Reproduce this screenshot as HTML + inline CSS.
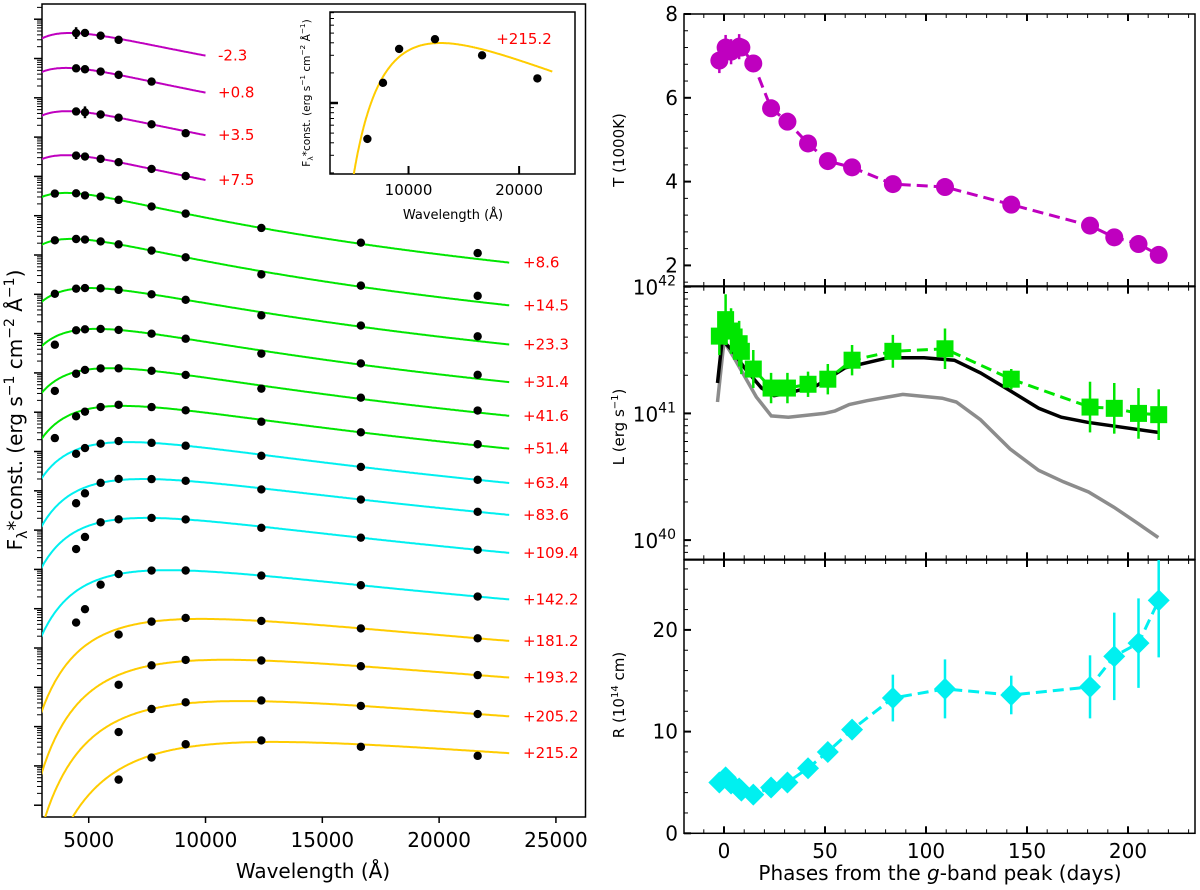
<!DOCTYPE html>
<html><head><meta charset="utf-8"><title>SED fits and blackbody parameters</title>
<style>
html,body{margin:0;padding:0;background:#fff;}
svg{display:block;font-family:"DejaVu Sans","Liberation Sans",sans-serif;}
</style></head>
<body>
<svg id="fig" width="1200" height="890" viewBox="0 0 1200 890" xmlns="http://www.w3.org/2000/svg">
<defs>
<clipPath id="clipL"><rect x="42" y="4" width="543.5" height="813"/></clipPath>
<clipPath id="clipI"><rect x="330" y="12" width="245" height="162"/></clipPath>
<clipPath id="clipT"><rect x="684" y="14" width="511" height="272"/></clipPath>
<clipPath id="clipLum"><rect x="684" y="286.7" width="511" height="272.6"/></clipPath>
<clipPath id="clipR"><rect x="684" y="560" width="511" height="273.3"/></clipPath>
</defs>
<g id="left"></g>
<g id="inset"></g>
<g id="tpan"></g>
<g id="lpan"></g>
<g id="rpan"></g>
</svg>
<script>
// ---------- data ----------
const epochLabels = ["-2.3","+0.8","+3.5","+7.5","+8.6","+14.5","+23.3","+31.4","+41.6","+51.4","+63.4","+83.6","+109.4","+142.2","+181.2","+193.2","+205.2","+215.2"];
const phases = [-2.3,0.8,3.5,7.5,8.6,14.5,23.3,31.4,41.6,51.4,63.4,83.6,109.4,142.2,181.2,193.2,205.2,215.2];
const temps = [6.89,7.2,7.1,7.22,7.2,6.82,5.75,5.43,4.91,4.49,4.34,3.94,3.87,3.45,2.95,2.67,2.51,2.25];
const tempErr = [0.3,0.3,0.3,0.3,0.2,0.1,0.05,0.05,0.05,0.05,0.05,0.05,0.05,0.05,0.05,0.05,0.05,0.05];
const lumLog = [41.61,41.74,41.65,41.55,41.49,41.35,41.20,41.20,41.23,41.27,41.42,41.49,41.51,41.27,41.05,41.04,41.00,40.99];
const lumErr = [0.15,0.2,0.18,0.18,0.18,0.15,0.12,0.12,0.1,0.12,0.12,0.13,0.16,0.08,0.2,0.2,0.2,0.2];
const radius = [5.0,5.5,4.9,4.4,4.2,3.8,4.5,5.0,6.4,8.0,10.2,13.3,14.2,13.6,14.4,17.4,18.7,22.9];
const radErr = [0.5,0.5,0.5,0.5,0.5,0.5,0.5,0.5,0.6,0.7,0.9,2.3,2.9,1.9,3.1,4.3,4.4,5.6];
const bolPhase = [-3.2,-0.9,3.9,10.6,18.6,24.8,31.9,46,60,81.4,99,114,127,141.6,155.8,167,180,215];
const bolLum = [41.24,41.58,41.5,41.35,41.2,41.14,41.16,41.22,41.36,41.44,41.44,41.42,41.32,41.18,41.04,40.97,40.93,40.85];
const grayPhase = [-3.2,0,5.3,16,23.4,31.9,49.6,55,62,70.8,81.4,88.5,108,115,127,141.6,155.8,168,180.5,193,205,215];
const grayLum = [41.09,41.57,41.43,41.13,40.98,40.97,41.0,41.02,41.07,41.1,41.13,41.15,41.12,41.09,40.95,40.72,40.55,40.46,40.38,40.26,40.13,40.02];
const sedLevel = [19.95,19.06,17.96,16.84,15.88,14.71,13.46,12.42,11.42,10.46,9.54,8.60,7.61,6.28,5.04,4.00,2.95,1.91];
const filterWave = [3550,4460,4840,5510,6280,7690,9150,12390,16650,21650];
const sedFilters = [[1,2,3,4],[1,2,3,4,5],[1,2,3,4,5,6],[1,2,3,4,5,6],
 [0,1,2,3,4,5,6,7,8,9],[0,1,2,3,4,5,6,7,8,9],[0,1,2,3,4,5,6,7,8,9],[0,1,2,3,4,5,6,7,8,9],[0,1,2,3,4,5,6,7,8,9],[0,1,2,3,4,5,6,7,8,9],
 [1,2,3,4,5,6,7,8,9],[1,2,3,4,5,6,7,8,9],[1,2,3,4,5,6,7,8,9],[1,2,3,4,5,6,7,8,9],
 [4,5,6,7,8,9],[4,5,6,7,8,9],[4,5,6,7,8,9],[4,5,6,7,8,9]];
const sedResid = [[0,0.02,0,-0.03],[0,0,0,0,0],[0,0,0,0,0,-0.05],[0,0,0,0,0,0],
 [0,0,-0.03,0,0,0,0,0,0.03,0.15],[0,0,0,0,0,0,0,-0.08,0.03,0.15],[0,0,0,0,0,0,0,-0.08,0.03,0.12],[-0.2,0,0,0,0,0,0,-0.08,0.03,0.1],[-0.25,-0.05,0,0,0,0,0,-0.08,0.03,0.05],[-0.35,-0.1,-0.05,0,0.03,0,0,-0.05,0,0.03],
 [-0.1,-0.03,0,0.03,0,0,-0.03,0,0],[-0.3,-0.15,0,0.03,0,0,-0.03,0,0],[-0.45,-0.25,0,0,0,0,-0.03,0,0],[-0.8,-0.6,-0.15,0,0,0,0,0,0],
 [-0.15,0,0.03,0,0,0],[-0.25,0,0.03,0,0,0],[-0.3,0,0.03,0.02,0,0],[-0.25,-0.06,0.08,0.04,-0.06,-0.12]];
const sedErr = [[0.15,0.1,0.1,0.1],[0,0,0,0,0],[0,0.15,0,0,0,0],[0,0,0,0,0,0]];
const insetLevel = 0.6;
const wlTicks = [5000,10000,15000,20000,25000];
const phaseTicks = [0,50,100,150,200];
const tTicks = [2,4,6,8];
const rTicks = [0,10,20];
const lDecades = [40,41,42];

// ---------- helpers ----------
const NS="http://www.w3.org/2000/svg";
function mk(tag,attrs,parent){const e=document.createElementNS(NS,tag);for(const k in attrs)e.setAttribute(k,attrs[k]);parent.appendChild(e);return e;}
const colors = i => i<4?"#bf00bf":(i<10?"#00e600":(i<14?"#00f0f0":"#ffcc00"));
function logB(lam,T){return -5*Math.log10(lam)-Math.log10(Math.exp(1.4388e8/(lam*T*1000))-1);}
function maxLogB(T,lmax){let m=-1e9;for(let l=3000;l<=lmax;l+=50){m=Math.max(m,logB(l,T));}return m;}

// ---------- left SED panel ----------
const L=document.getElementById('left');
const X = l => 42+(l-3000)*0.02336;
const Y = d => 817-d*39.3;
const box=mk('rect',{x:42,y:4,width:543.5,height:813,fill:'none',stroke:'#000','stroke-width':1.5},L);


for(const t of wlTicks){
  const tk=mk('line',{x1:X(t),x2:X(t),y1:817,y2:823,stroke:'#000','stroke-width':1.5},L);
  
  
  const tl=mk('text',{x:X(t),y:847,'font-size':20,'text-anchor':'middle'},L);
  tl.textContent=t;
  
  
}
for(let k=0;k<21;k++){
  for(let m=1;m<10;m++){
    const d=0.3+k+Math.log10(m); if(d>20.7||d<0) continue;
    const tk=mk('line',{x1:m==1?34:37,x2:42,y1:Y(d),y2:Y(d),stroke:'#000','stroke-width':m==1?1.5:1},L);
    
    
  }
}
const cg=mk('g',{'clip-path':'url(#clipL)'},L);
for(let i=0;i<phases.length;i++){
  const T=temps[i], lmax=i<4?10000:23000, mx=maxLogB(T,lmax);
  const val=l=>sedLevel[i]+logB(l,T)-mx;
  let d="";
  for(let l=2500;l<=lmax;l+=50){const v=val(l); if(v<-3) continue; d+=(d?"L":"M")+X(l).toFixed(1)+","+Y(v).toFixed(1);}
  const p=mk('path',{d:d,fill:'none',stroke:colors(i),'stroke-width':2},cg);
  
  
  sedFilters[i].forEach((f,j)=>{
    const lam=filterWave[f], v=val(lam)+sedResid[i][j];
    const e=(sedErr[i]&&sedErr[i][j])||0;
    if(e>0){const eb=mk('line',{x1:X(lam),x2:X(lam),y1:Y(v-e),y2:Y(v+e),stroke:'#000','stroke-width':2.5},cg);
      
      }
    const c=mk('circle',{cx:X(lam),cy:Y(v),r:4.2,fill:'#000'},cg);
    
    
  });
  const lab=mk('text',{x:i<4?218:523,y:Y(val(lmax))+5,'font-size':15,fill:'#ff0000'},L);
  lab.textContent=epochLabels[i];
  
  
}
</script>
<script>
function txt(parent,x,y,size,anchor,html,rot,name){
  const t=mk('text',{x:x,y:y,'font-size':size,'text-anchor':anchor},parent);
  if(rot) t.setAttribute('transform','rotate(-90 '+x+' '+y+')');
  t.innerHTML=html;
  
  
  return t;
}
txt(L,313,878,20,'middle','Wavelength (Å)',false,'x-axis-title');
txt(L,22,410,20,'middle','F<tspan font-size="0.7em" dy="5">λ</tspan><tspan dy="-5">*const. (erg s</tspan><tspan dy="-8" font-size="0.7em">−1</tspan><tspan dy="8"> cm</tspan><tspan dy="-8" font-size="0.7em">−2</tspan><tspan dy="8"> Å</tspan><tspan dy="-8" font-size="0.7em">−1</tspan><tspan dy="8">)</tspan>',true,'y-axis-title');

// ---------- inset ----------
const I=document.getElementById('inset');
const IX = l => 330+(l-2900)*0.01106;
const IY = d => 103-d*100;
const ib=mk('rect',{x:330,y:12,width:245,height:162,fill:'#fff',stroke:'#000','stroke-width':1.5},I);


for(const t of [10000,20000]){
  const tk=mk('line',{x1:IX(t),x2:IX(t),y1:174,y2:166,stroke:'#000','stroke-width':2},I);
  
  
  txt(I,IX(t),195,15,'middle',String(t),false,'inset-x-tick-label');
}
for(let k=-1;k<=0;k++){for(let m=1;m<10;m++){
  const d=k+Math.log10(m); if(d<-0.71||d>0.91) continue;
  const tk=mk('line',{x1:330,x2:m==1&&k==0?338:334,y1:IY(d),y2:IY(d),stroke:'#000','stroke-width':m==1&&k==0?2.5:1},I);
  
  
}}
const ig=mk('g',{'clip-path':'url(#clipI)'},I);
{
  const i=phases.length-1, T=temps[i], mx=maxLogB(T,23000);
  const val=l=>insetLevel+logB(l,T)-mx;
  let d="";
  for(let l=3500;l<=23000;l+=50){const v=val(l); if(v<-1.2) continue; d+=(d?"L":"M")+IX(l).toFixed(1)+","+IY(v).toFixed(1);}
  const p=mk('path',{d:d,fill:'none',stroke:'#ffcc00','stroke-width':2},ig);
  
  
  sedFilters[i].forEach((f,j)=>{
    const lam=filterWave[f], v=val(lam)+sedResid[i][j];
    if(j==0){const eb=mk('line',{x1:IX(lam),x2:IX(lam),y1:IY(v-0.04),y2:IY(v+0.04),stroke:'#000','stroke-width':2},ig);
      
      }
    const c=mk('circle',{cx:IX(lam),cy:IY(v),r:4.2,fill:'#000'},ig);
    
    
  });
}
const il=txt(I,524,44,15,'middle',epochLabels[epochLabels.length-1],false,'inset-epoch-label');
il.setAttribute('fill','#ff0000');
txt(I,453,219,13,'middle','Wavelength (Å)',false,'inset-x-axis-title');
txt(I,310,93,10.5,'middle','F<tspan font-size="0.7em" dy="3">λ</tspan><tspan dy="-3">*const. (erg s</tspan><tspan dy="-5" font-size="0.7em">−1</tspan><tspan dy="5"> cm</tspan><tspan dy="-5" font-size="0.7em">−2</tspan><tspan dy="5"> Å</tspan><tspan dy="-5" font-size="0.7em">−1</tspan><tspan dy="5">)</tspan>',true,'inset-y-axis-title');

// ---------- right panels ----------
const PX = p => 724+p*2.02;
const TY = t => 14+(8-t)*41.9;
const LY = l => 286.7+(42-l)*126.7;
const RY = r => 833.3-r*10.17;
function frame(g,y0,y1,name){
  const r=mk('rect',{x:684,y:y0,width:511,height:y1-y0,fill:'none',stroke:'#000','stroke-width':1.5},g);
  
  
  for(let p=-10;p<=230;p+=10){
    const maj=p%50==0, len=maj?7:4;
    for(const [ya,yb] of [[y1,y1-len],[y0,y0+len]]){
      const tk=mk('line',{x1:PX(p),x2:PX(p),y1:ya,y2:yb,stroke:'#000','stroke-width':maj?2:1},g);
      
      
    }
  }
}
function ytick(g,y,maj,name){
  const tk=mk('line',{x1:684,x2:684+(maj?7:4),y1:y,y2:y,stroke:'#000','stroke-width':maj?2:1},g);
  
  
}
function dashed(g,xs,ys,color,name){
  const d=xs.map((x,k)=>(k?"L":"M")+x.toFixed(1)+","+ys[k].toFixed(1)).join("");
  const p=mk('path',{d:d,fill:'none',stroke:color,'stroke-width':3,'stroke-dasharray':'11,6'},g);
  
  
}
// T panel
const TP=document.getElementById('tpan');
frame(TP,14,286,'temperature-axes-frame');
for(let t=1.6;t<=8.001;t+=0.4){ytick(TP,TY(t),Math.abs(t-Math.round(t))<0.01&&Math.round(t)%2==0,'temperature-y-tick');}
for(const t of tTicks) txt(TP,678,TY(t)+7,20,'end',String(t),false,'temperature-tick-label');
txt(TP,624,150,15,'middle','T (1000K)',true,'temperature-axis-title');
const tg=mk('g',{'clip-path':'url(#clipT)'},TP);
dashed(tg,phases.map(PX),temps.map(TY),'#bf00bf','temperature-line');
phases.forEach((p,k)=>{
  if(tempErr[k]>0.15){const eb=mk('line',{x1:PX(p),x2:PX(p),y1:TY(temps[k]-tempErr[k]),y2:TY(temps[k]+tempErr[k]),stroke:'#bf00bf','stroke-width':2.5},tg);
    
    }
  const c=mk('circle',{cx:PX(p),cy:TY(temps[k]),r:9,fill:'#bf00bf'},tg);
  
  
});
// L panel
const LP=document.getElementById('lpan');
frame(LP,286.7,559.3,'luminosity-axes-frame');
for(let k=39;k<=41;k++){for(let m=1;m<10;m++){const v=k+Math.log10(m); if(v<39.85||v>42) continue; ytick(LP,LY(v),m==1,'luminosity-y-tick');}}
ytick(LP,LY(42),true,'luminosity-y-tick');
for(const dcd of lDecades) txt(LP,676,LY(dcd)+8,20,'end','10<tspan dy="-9" font-size="14">'+dcd+'</tspan>',false,'luminosity-tick-label');
txt(LP,624,427,15,'middle','L (erg s<tspan dy="-6" font-size="10">−1</tspan><tspan dy="6">)</tspan>',true,'luminosity-axis-title');
const lg=mk('g',{'clip-path':'url(#clipLum)'},LP);
{
  const d=grayPhase.map((p,k)=>(k?"L":"M")+PX(p).toFixed(1)+","+LY(grayLum[k]).toFixed(1)).join("");
  const gp=mk('path',{d:d,fill:'none',stroke:'#8c8c8c','stroke-width':3.5},lg);
  
  
  const d2=bolPhase.map((p,k)=>(k?"L":"M")+PX(p).toFixed(1)+","+LY(bolLum[k]).toFixed(1)).join("");
  const bp=mk('path',{d:d2,fill:'none',stroke:'#000','stroke-width':3.5},lg);
  
  
}
dashed(lg,phases.map(PX),lumLog.map(LY),'#00e600','luminosity-line');
phases.forEach((p,k)=>{
  const eb=mk('line',{x1:PX(p),x2:PX(p),y1:LY(lumLog[k]-lumErr[k]),y2:LY(lumLog[k]+lumErr[k]),stroke:'#00e600','stroke-width':2.5},lg);
  
  
  const s=mk('rect',{x:PX(p)-8.5,y:LY(lumLog[k])-8.5,width:17,height:17,fill:'#00e600'},lg);
  
  
});
// R panel
const RP=document.getElementById('rpan');
frame(RP,560,833.3,'radius-axes-frame');
for(let r=0;r<=26;r+=2) ytick(RP,RY(r),r%10==0,'radius-y-tick');
for(const r of rTicks) txt(RP,678,RY(r)+7,20,'end',String(r),false,'radius-tick-label');
txt(RP,624,695,15,'middle','R (10<tspan dy="-6" font-size="10">14</tspan><tspan dy="6"> cm)</tspan>',true,'radius-axis-title');
for(const p of phaseTicks) txt(RP,PX(p),858,20,'middle',String(p),false,'phase-tick-label');
txt(RP,940,880,20,'middle','Phases from the <tspan font-style="italic">g</tspan>-band peak (days)',false,'phase-axis-title');
const rg=mk('g',{'clip-path':'url(#clipR)'},RP);
dashed(rg,phases.map(PX),radius.map(RY),'#00f0f0','radius-line');
phases.forEach((p,k)=>{
  const eb=mk('line',{x1:PX(p),x2:PX(p),y1:RY(radius[k]-radErr[k]),y2:RY(radius[k]+radErr[k]),stroke:'#00f0f0','stroke-width':2.5},rg);
  
  
  const x=PX(p), y=RY(radius[k]);
  const dm=mk('polygon',{points:`${x},${y-11} ${x+11},${y} ${x},${y+11} ${x-11},${y}`,fill:'#00f0f0'},rg);
  
  
});
</script>
</body></html>
